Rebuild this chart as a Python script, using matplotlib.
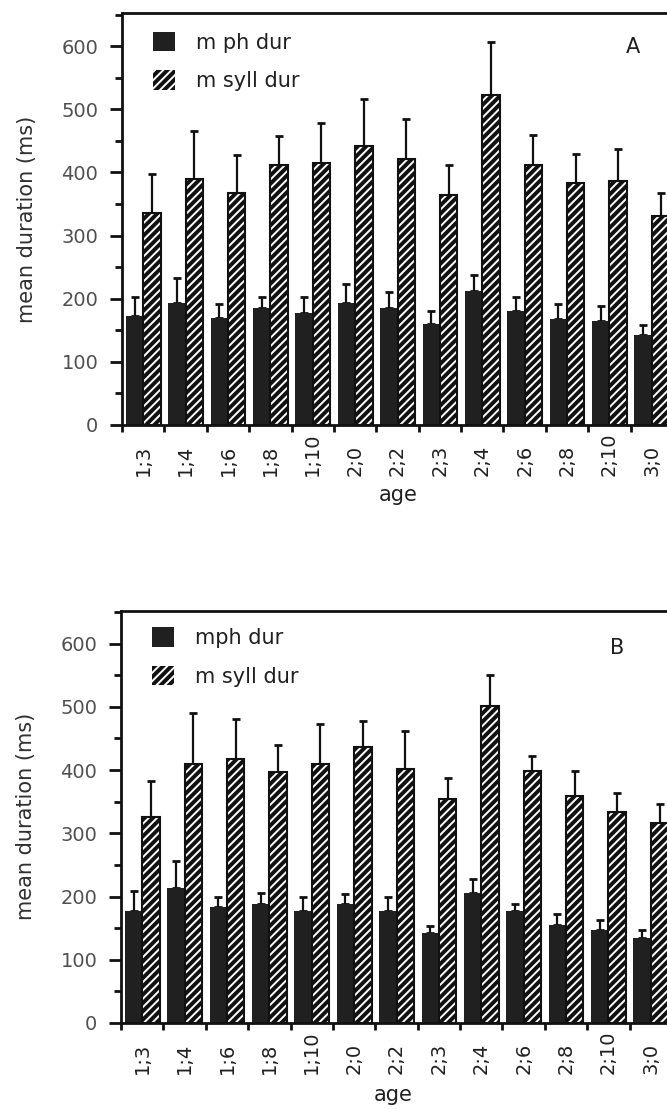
import numpy as np
import matplotlib
matplotlib.use("Agg")
import matplotlib.pyplot as plt

# ages (x categories)
ages = ["1;3", "1;4", "1;6", "1;8", "1;10", "2;0", "2;2", "2;3", "2;4", "2;6", "2;8", "2;10", "3;0"]

# panel A
ph_a = [173, 193, 170, 185, 177, 193, 185, 160, 212, 181, 168, 164, 143]
ph_a_err = [29, 40, 21, 17, 25, 30, 25, 20, 25, 21, 24, 25, 16]
syll_a = [336, 390, 368, 412, 415, 442, 421, 365, 523, 412, 383, 386, 331]
syll_a_err = [62, 76, 60, 46, 64, 75, 63, 47, 84, 47, 46, 51, 37]

# panel B
ph_b = [177, 213, 184, 188, 177, 188, 177, 143, 206, 177, 155, 147, 134]
ph_b_err = [32, 43, 16, 17, 22, 16, 22, 11, 21, 11, 17, 16, 13]
syll_b = [325, 410, 417, 397, 410, 436, 401, 354, 501, 398, 359, 334, 317]
syll_b_err = [58, 80, 64, 42, 63, 41, 60, 34, 50, 25, 39, 29, 30]

plt.rcParams["hatch.linewidth"] = 1.4

W, H = 667, 1109
fig = plt.figure(figsize=(W / 100, H / 100), dpi=100)


def panel(rect, ph, ph_err, syll, syll_err, ph_label, letter, leg_xy, letter_xy, age_xy):
    ax = fig.add_axes(rect)
    x = np.arange(len(ages)) + 0.5
    w = 0.41
    dark = ax.bar(x - w / 2, ph, w, color="#202020", linewidth=0, zorder=2)
    hatched = ax.bar(x + w / 2, syll, w, color="#111111", edgecolor="white",
                     linewidth=0, hatch="////", zorder=2)
    # black outline round the hatched bars
    ax.bar(x + w / 2, syll, w, fill=False, edgecolor="#111111", linewidth=1.5, zorder=3)
    ax.errorbar(x - w / 2, ph, yerr=[np.zeros(len(ph)), ph_err], fmt="none",
                ecolor="#111111", elinewidth=1.6, capsize=3, capthick=2, zorder=1)
    ax.errorbar(x + w / 2, syll, yerr=[np.zeros(len(syll)), syll_err], fmt="none",
                ecolor="#111111", elinewidth=1.6, capsize=3, capthick=2, zorder=1)

    ax.set_xlim(0, 13.4)
    ax.set_ylim(0, 652)
    ax.spines["right"].set_visible(False)
    for s in ["left", "top", "bottom"]:
        ax.spines[s].set_linewidth(2)
        ax.spines[s].set_color("#111111")

    ax.set_yticks(np.arange(0, 601, 100))
    ax.set_yticks(np.arange(50, 651, 100), minor=True)
    ax.tick_params(axis="y", which="major", length=8.5, width=2, pad=8.5,
                   labelsize=14, labelcolor="#505050", color="#111111")
    ax.tick_params(axis="y", which="minor", length=5, width=2, color="#111111")

    # boundary ticks between groups, labels at group centres
    ax.set_xticks(np.arange(0, 14))
    ax.set_xticklabels([])
    ax.set_xticks(x, minor=True)
    ax.set_xticklabels(ages, minor=True, rotation=90)
    ax.tick_params(axis="x", which="major", length=5, width=2, color="#111111")
    ax.tick_params(axis="x", which="minor", length=0, pad=36.5,
                   labelsize=14, labelcolor="#202020")
    for lbl in ax.get_xticklabels(minor=True):
        lbl.set_va("bottom")

    ax.set_ylabel("mean duration (ms)", fontsize=15, color="#303030")
    ax.yaxis.set_label_coords(-0.15, 0.5)
    ax.set_xlabel("age", fontsize=15, color="#202020", va="center")
    ax.xaxis.set_label_coords(*age_xy)

    ax.legend([dark, hatched], [ph_label, "m syll dur"], loc="upper left",
              bbox_to_anchor=leg_xy, frameon=False, fontsize=15, borderpad=0,
              borderaxespad=0, handlelength=1.06, handleheight=1.06,
              handletextpad=1.0, labelspacing=0.85, labelcolor="#202020")
    ax.text(letter_xy[0], letter_xy[1], letter, transform=ax.transAxes,
            fontsize=15, color="#202020", ha="center", va="center")
    return ax


panel([122 / W, 1 - 425 / H, 568 / W, 411.7 / H], ph_a, ph_a_err, syll_a, syll_a_err,
      "m ph dur", "A", (0.0546, 0.955), (0.90, 0.918), (0.486, -0.17))
panel([121 / W, 1 - 1023 / H, 568 / W, 412.3 / H], ph_b, ph_b_err, syll_b, syll_b_err,
      "mph dur", "B", (0.0546, 0.96), (0.873, 0.91), (0.479, -0.175))

fig.savefig("out.png", dpi=100)
